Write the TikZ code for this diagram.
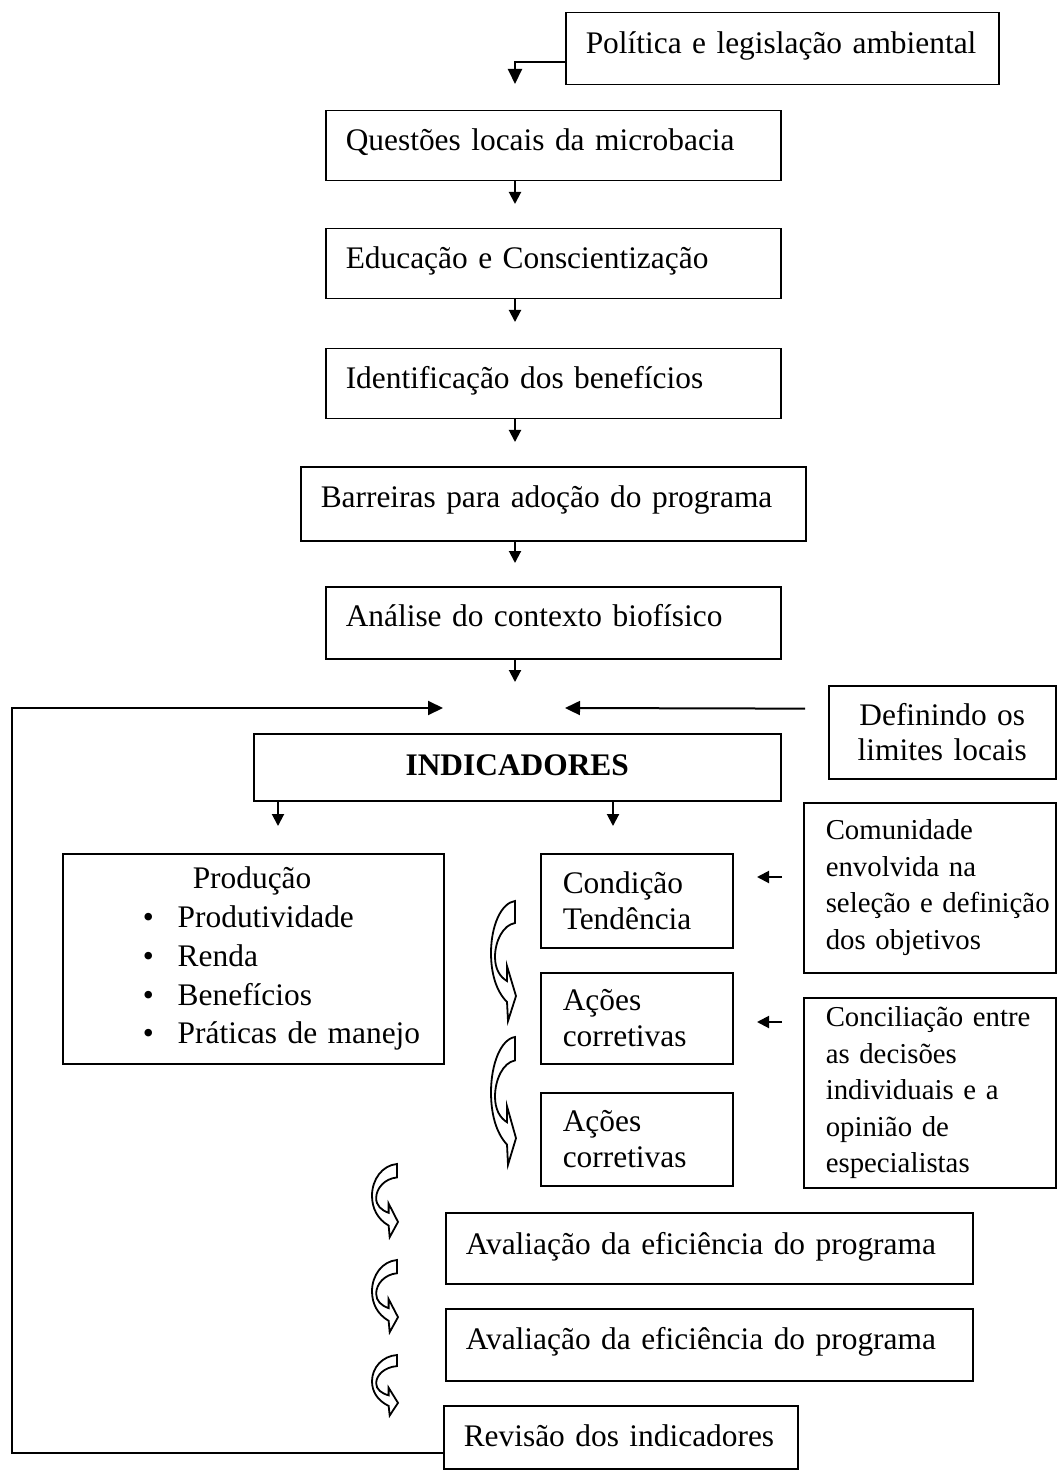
\documentclass[tikz,border=0pt]{standalone}
\usepackage{fontspec}
\setmainfont{Liberation Serif}
\usetikzlibrary{arrows.meta,calc}
\newcommand\curlarrow[4]{%
  \begin{scope}[shift={(#1,#2)},xscale=#3/25,yscale=#4/123]
    \path[curl] (24,0) -- (24,22)
      .. controls (12,24) and (4,40) .. (4,56)
      .. controls (4,68) and (9,76) .. (16,80)
      -- (16,65) -- (25,95) -- (17,120) -- (16,101)
      .. controls (5,90) and (0,72) .. (0,52)
      .. controls (0,25) and (10,2) .. (24,0) -- cycle;
  \end{scope}}
\begin{document}
\begin{tikzpicture}[x=0.5pt,y=-0.5pt,
  box/.style={draw, line width=0.75pt, anchor=north west, inner xsep=10pt,
    inner ysep=0pt, align=left, font=\fontsize{15.7}{18}\selectfont},
  sl/.style 2 args={text height=#1, text depth=#2},
  side/.style={font=\fontsize{14.4}{18.3}\selectfont},
  arr/.style={line width=1pt, -{Triangle[length=6pt,width=6pt]}},
  bigarr/.style={line width=1pt, -{Triangle[length=7.5pt,width=7pt]}},
  curl/.style={draw, fill=white, line width=0.9pt, line join=miter}
]
\useasboundingbox (0,0) rectangle (1057,1470);

% boxes
\node[box, text width=196.5pt, sl={20.5pt}{15.5pt}] (pol) at (565,12) {\mbox{Política e legislação ambiental}};
\node[box, text width=207.5pt, sl={20pt}{15pt}] (q) at (325,110) {\mbox{Questões locais da microbacia}};
\node[box, text width=207.5pt, sl={20pt}{15pt}] (edu) at (325,228) {\mbox{Educação e Conscientização}};
\node[box, text width=207.5pt, sl={20pt}{15pt}] (ide) at (325,348) {\mbox{Identificação dos benefícios}};
\node[box, text width=232.5pt, sl={20.5pt}{16.5pt}] (bar) at (300,466) {\mbox{Barreiras para adoção do programa}};
\node[box, text width=207.5pt, sl={20pt}{16pt}] (ana) at (325,586) {\mbox{Análise do contexto biofísico}};
\node[box, align=center, text width=243.5pt, sl={21pt}{12.5pt},
  font=\fontsize{15.7}{18}\selectfont\bfseries] (ind) at (253,733) {INDICADORES};
\node[box, align=center, inner xsep=5pt, text width=103.5pt, minimum height=46.5pt,
  font=\fontsize{15.7}{17.5}\selectfont] (def) at (828,685) {Definindo os\\limites locais};
\node[box, inner xsep=0pt, text width=190.5pt, minimum height=105pt,
  font=\fontsize{15.7}{19.4}\selectfont] (prod) at (62,853)
  {\hspace*{65pt}Produção\\
   \hspace*{40pt}\makebox[17.5pt][l]{\textbullet}Produtividade\\
   \hspace*{40pt}\makebox[17.5pt][l]{\textbullet}Renda\\
   \hspace*{40pt}\makebox[17.5pt][l]{\textbullet}Benefícios\\
   \hspace*{40pt}\makebox[17.5pt][l]{\textbullet}\mbox{Práticas de manejo}};
\node[box, inner xsep=11pt, text width=74pt, minimum height=47pt] (cond) at (540,853) {Condição\\Tendência};
\node[box, inner xsep=11pt, text width=74pt, minimum height=45.5pt] (ac1) at (540,972) {Ações\\corretivas};
\node[box, inner xsep=11pt, text width=74pt, minimum height=46.5pt] (ac2) at (540,1092) {Ações\\corretivas};
\node[box, side, inner xsep=11pt, text width=104pt, minimum height=85pt] (com) at (803,802)
  {Comunidade\\envolvida na\\\mbox{seleção e definição}\\dos objetivos};
\node[box, side, inner xsep=11pt, text width=104pt, minimum height=95pt] (con) at (803,997)
  {\mbox{Conciliação entre}\\as decisões\\individuais e a\\opinião de\\especialistas};
\node[box, text width=243.5pt, sl={21pt}{14.5pt}] (av1) at (445,1212) {\mbox{Avaliação da eficiência do programa}};
\node[box, text width=243.5pt, sl={20.5pt}{15.5pt}] (av2) at (445,1308) {\mbox{Avaliação da eficiência do programa}};
\node[box, text width=157pt, sl={20.5pt}{11pt}] (rev) at (443,1405) {\mbox{Revisão dos indicadores}};

% connector end points
\coordinate (a0) at (515,84);
\coordinate (t1) at (515,204);
\coordinate (t2) at (515,322);
\coordinate (t3) at (515,442);
\coordinate (t4) at (515,563);
\coordinate (t5) at (515,682);
\coordinate (fb) at (443,708);
\coordinate (dt) at (565,708);
\coordinate (i1) at (278,826);
\coordinate (i2) at (613,826);

% connectors
\draw[bigarr] ($(pol.north west)!0.68!(pol.south west)$) -| (a0);
\draw[arr] (q.south -| t1) -- (t1);
\draw[arr] (edu.south -| t2) -- (t2);
\draw[arr] (ide.south -| t3) -- (t3);
\draw[arr] (bar.south -| t4) -- (t4);
\draw[arr] (ana.south -| t5) -- (t5);
\draw[bigarr] ($(rev.north west)!0.746!(rev.south west)$) -- ++(-431,0) |- (fb);
\draw[bigarr] ($(def.north west)!0.25!(def.south west)+(-23,0)$) -- (dt);
\draw[arr] (ind.south -| i1) -- (i1);
\draw[arr] (ind.south -| i2) -- (i2);
\draw[arr] ($(com.north west)+(-21,75)$) -- ++(-25,0);
\draw[arr] ($(con.north west)+(-21,25)$) -- ++(-25,0);

% curved block arrows
\curlarrow{491}{901}{25}{123}
\curlarrow{491}{1037}{25}{131}
\curlarrow{372}{1164}{26}{75}
\curlarrow{372}{1260}{26}{74}
\curlarrow{372}{1355}{26}{62}
\end{tikzpicture}
\end{document}
